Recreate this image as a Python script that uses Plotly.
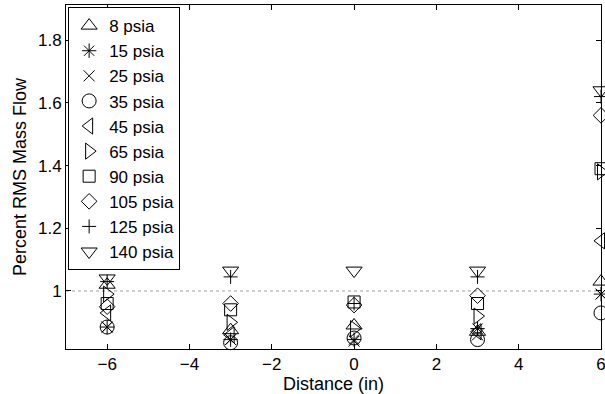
import plotly.graph_objects as go

distance = [-6, -3, 0, 3, 6]
series_names = ["8 psia", "15 psia", "25 psia", "35 psia", "45 psia",
                "65 psia", "90 psia", "105 psia", "125 psia", "140 psia"]
p8 = [1.02, 0.875, 0.89, 0.87, 1.03]
p15 = [0.885, 0.845, 0.845, 0.88, 0.99]
p25 = [0.885, 0.845, 0.84, 0.86, 0.99]
p35 = [0.885, 0.835, 0.85, 0.845, 0.93]
p45 = [0.93, 0.86, 0.81, 0.87, 1.16]
p65 = [0.99, 0.90, 0.88, 0.92, 1.38]
p90 = [0.96, 0.94, 0.965, 0.96, 1.39]
p105 = [0.95, 0.96, 0.955, 0.985, 1.56]
p125 = [1.03, 1.045, 0.96, 1.045, 1.62]
p140 = [1.04, 1.065, 1.065, 1.065, 1.64]
values = [p8, p15, p25, p35, p45, p65, p90, p105, p125, p140]

x_ticks = [-6, -4, -2, 0, 2, 4, 6]
y_ticks = [1, 1.2, 1.4, 1.6, 1.8]
ref_level = 1.0

symbols = ["triangle-up-open", "asterisk-open", "x-thin-open", "circle-open",
           "triangle-left-open", "triangle-right-open", "square-open",
           "diamond-open", "cross-thin-open", "triangle-down-open"]
sizes = [14, 12, 11, 14, 14, 14, 12, 12, 10, 14]

FONT = "Liberation Sans, Arial, sans-serif"

fig = go.Figure()
fig.add_trace(go.Scatter(x=[-7, 6], y=[ref_level, ref_level], mode="lines",
                         line=dict(color="#a0a0a0", width=1, dash="dot"),
                         showlegend=False, hoverinfo="skip"))
for name, vals, sym, sz in zip(series_names, values, symbols, sizes):
    fig.add_trace(go.Scatter(
        x=distance, y=vals, mode="markers", name=name,
        marker=dict(symbol=sym, size=sz, color="black",
                    line=dict(color="black", width=1)),
        cliponaxis=False))

fig.update_layout(
    width=605, height=394,
    margin=dict(l=66, r=4, t=5, b=45),
    paper_bgcolor="white", plot_bgcolor="white",
    font=dict(family=FONT, size=18, color="black"),
    showlegend=True,
    legend=dict(x=0.004, y=0.994, xanchor="left", yanchor="top",
                bordercolor="black", borderwidth=1, bgcolor="white",
                font=dict(size=17), itemwidth=30, tracegroupgap=0),
    xaxis=dict(range=[-7, 6.0], tickvals=x_ticks, showgrid=False, zeroline=False,
               showline=True, linecolor="black", linewidth=1, mirror="ticks",
               ticks="inside", ticklen=5, tickcolor="black", automargin=False,
               ticklabeloverflow="allow",
               title=dict(text="Distance (in)", standoff=0, font=dict(size=18)),
               tickfont=dict(size=17)),
    yaxis=dict(range=[0.815, 1.912], tickvals=y_ticks, showgrid=False, zeroline=False,
               showline=True, linecolor="black", linewidth=1, mirror="ticks",
               ticks="inside", ticklen=5, tickcolor="black", automargin=False,
               title=dict(text="Percent RMS Mass Flow", standoff=6, font=dict(size=18)),
               tickfont=dict(size=17)),
)

fig.write_html("out.html")
